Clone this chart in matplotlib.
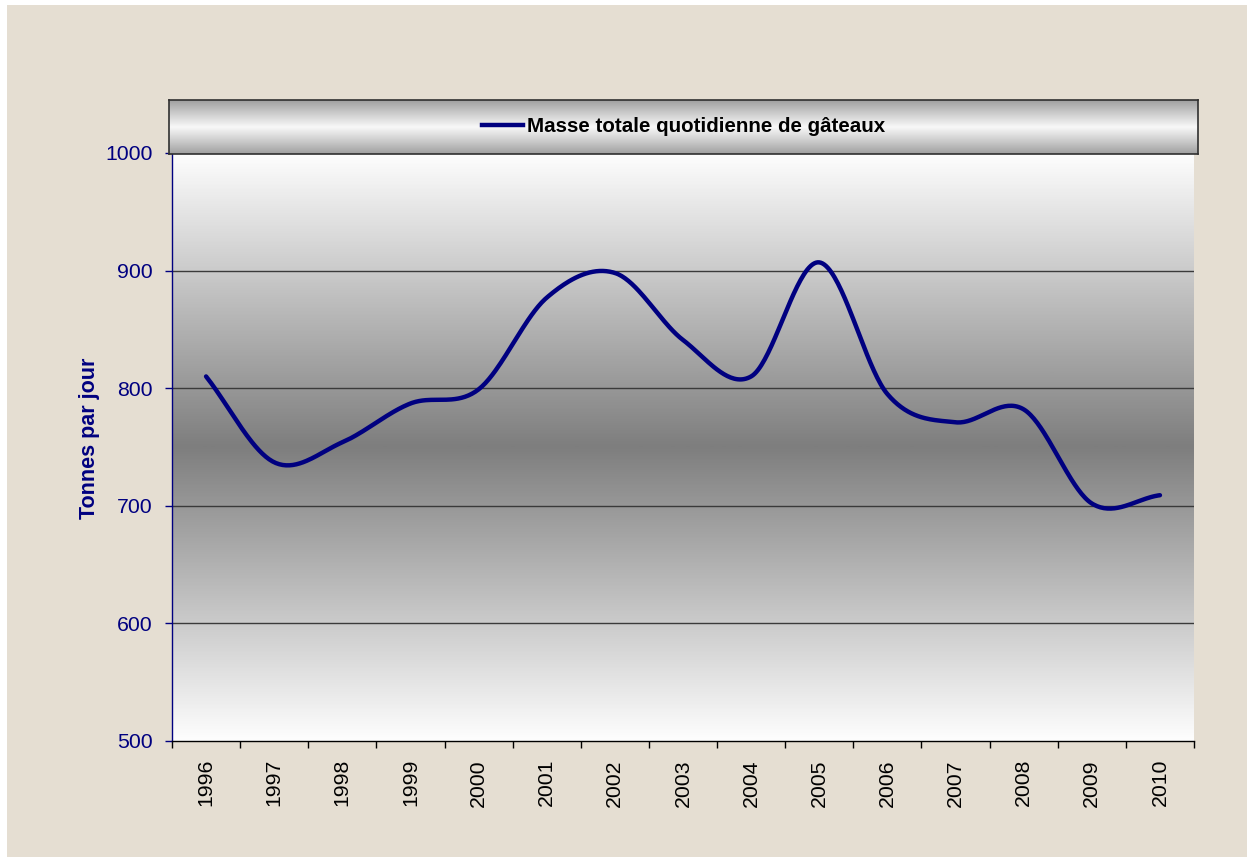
import numpy as np
import matplotlib
matplotlib.use("Agg")
import matplotlib.pyplot as plt
from matplotlib.colors import LinearSegmentedColormap
from matplotlib.lines import Line2D
from matplotlib.patches import Rectangle

years = ["1996", "1997", "1998", "1999", "2000", "2001", "2002", "2003",
         "2004", "2005", "2006", "2007", "2008", "2009", "2010"]
masse = [810, 737, 754, 787, 799, 877, 898, 841, 810, 907, 795, 771, 782, 702, 709]
series_name = "Masse totale quotidienne de gâteaux"
y_label = "Tonnes par jour"
y_ticks = [500, 600, 700, 800, 900, 1000]

plt.rcParams['font.family'] = ['Liberation Sans', 'DejaVu Sans']

W, H = 1247, 857
fig = plt.figure(figsize=(W / 100, H / 100), dpi=100)
fig.patch.set_facecolor("white")
# parchment background
fig.patches.append(Rectangle((7 / W, 0), 1, 1 - 5 / H, transform=fig.transFigure,
                             facecolor="#e5ded2", edgecolor="none", zorder=-10))

def fx(px):
    return px / W

def fy(py):
    return 1 - py / H

ax = fig.add_axes([fx(172), fy(741), fx(1194) - fx(172), fy(153) - fy(741)])

# plot-area vertical gradient: white - grey - white
grad = np.abs(np.linspace(-1, 1, 400)).reshape(-1, 1)
cmap = LinearSegmentedColormap.from_list("g", ["#7e7e7e", "#fefefe"])
ax.imshow(grad, aspect="auto", cmap=cmap, extent=(0, 1, 0, 1),
          transform=ax.transAxes, zorder=0, vmin=0, vmax=1, interpolation="bilinear")

x = np.arange(len(years))
y = np.array(masse, dtype=float)

# Catmull-Rom style smoothing through the data points (like Excel smoothed lines)
def smooth(xs, ys, n=40):
    px = np.concatenate([[2 * xs[0] - xs[1]], xs, [2 * xs[-1] - xs[-2]]])
    py = np.concatenate([[2 * ys[0] - ys[1]], ys, [2 * ys[-1] - ys[-2]]])
    outx, outy = [], []
    for i in range(1, len(px) - 2):
        t = np.linspace(0, 1, n, endpoint=(i == len(px) - 3))
        p0, p1, p2, p3 = py[i - 1], py[i], py[i + 1], py[i + 2]
        q0, q1, q2, q3 = px[i - 1], px[i], px[i + 1], px[i + 2]
        f = lambda a0, a1, a2, a3: 0.5 * ((2 * a1) + (-a0 + a2) * t +
                                          (2 * a0 - 5 * a1 + 4 * a2 - a3) * t ** 2 +
                                          (-a0 + 3 * a1 - 3 * a2 + a3) * t ** 3)
        outx.append(f(q0, q1, q2, q3))
        outy.append(f(p0, p1, p2, p3))
    return np.concatenate(outx), np.concatenate(outy)

sx, sy = smooth(x.astype(float), y)
line, = ax.plot(sx, sy, color="#000080", lw=3.2, solid_capstyle="round", zorder=3,
                label=series_name)

ax.set_xlim(-0.5, len(years) - 0.5)
ax.set_ylim(500, 1000)
ax.set_yticks(y_ticks)
ax.set_yticklabels([str(v) for v in y_ticks])
for v in y_ticks[1:-1]:
    ax.axhline(v, color="#3a3a3a", lw=1.0, zorder=1)

ax.set_xticks(x)
ax.set_xticklabels(years, rotation=90, va="top", ha="center")
ax.set_xticks(np.arange(-0.5, len(years)), minor=True)
ax.tick_params(axis="x", which="major", length=0, pad=13, labelsize=15.3, labelcolor="black")
ax.tick_params(axis="x", which="minor", length=5, width=1, color="black", direction="out")
ax.tick_params(axis="y", length=5, width=1, color="#000080", direction="out",
               pad=9, labelsize=15.3, labelcolor="#000080")

for s in ["top", "right"]:
    ax.spines[s].set_visible(False)
ax.spines["left"].set_color("#000080")
ax.spines["left"].set_linewidth(1)
ax.spines["bottom"].set_color("black")
ax.spines["bottom"].set_linewidth(1)

ax.set_ylabel(y_label, fontsize=15.5, fontweight="bold", color="#000080")
ax.yaxis.set_label_coords(-0.070, 0.515)

# legend box with metallic gradient
lax = fig.add_axes([fx(169), fy(154), fx(1198) - fx(169), fy(100) - fy(154)])
lg = np.linspace(0, 1, 200)
lvals = 1 - np.abs(lg - 0.5) * 2
lcmap = LinearSegmentedColormap.from_list("lg", ["#a0a0a0", "#cdcdcd", "#f8f8f8"])
lax.imshow(lvals.reshape(-1, 1), aspect="auto", cmap=lcmap, extent=(0, 1, 0, 1),
           vmin=0, vmax=1, interpolation="bilinear")
lax.set_xlim(0, 1)
lax.set_ylim(0, 1)
lax.set_xticks([])
lax.set_yticks([])
for s in lax.spines.values():
    s.set_color("#303030")
    s.set_linewidth(1.2)
lax.legend(handles=[Line2D([0], [0], color="#000080", lw=3.2)], labels=[series_name],
           loc="center", frameon=False, prop={"weight": "bold", "size": 14.8},
           handlelength=2.0, handletextpad=0.15, borderaxespad=0)

fig.savefig("out.png", dpi=100, facecolor=fig.get_facecolor())
